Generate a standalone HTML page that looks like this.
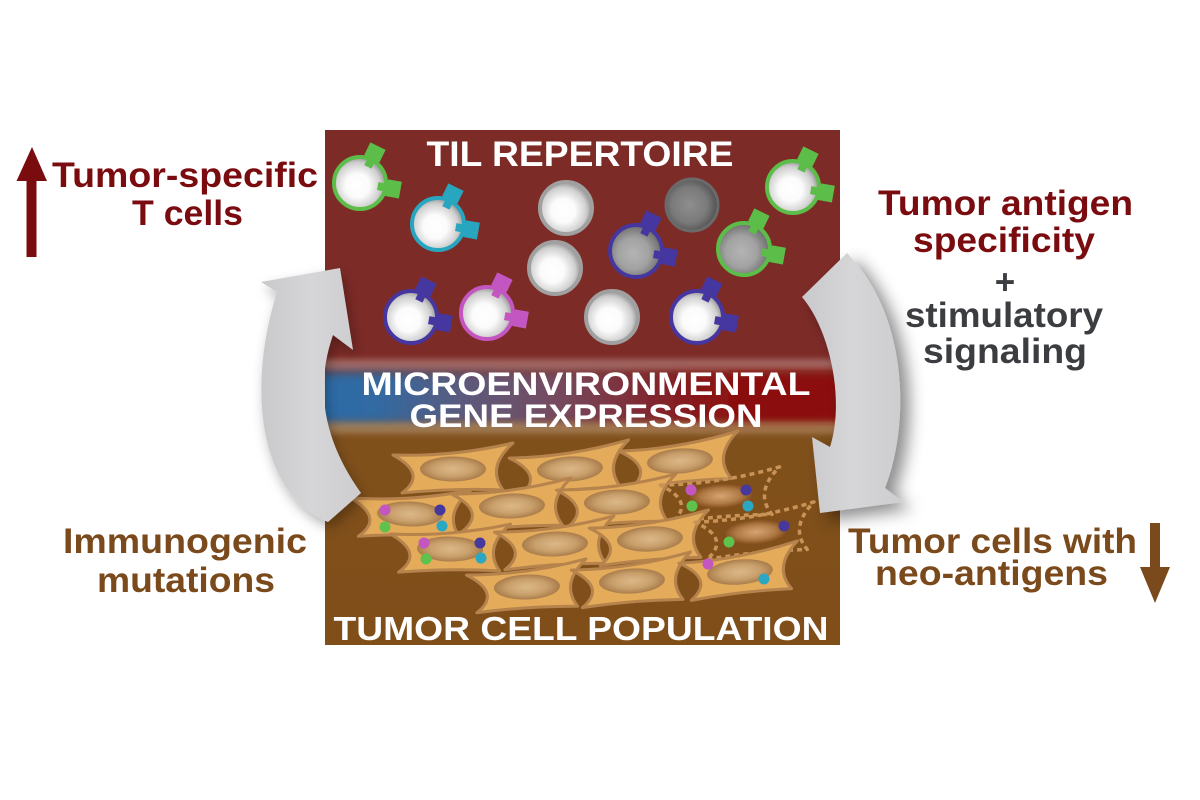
<!DOCTYPE html>
<html><head><meta charset="utf-8"><style>
html,body{margin:0;padding:0;background:#fff;}
svg{display:block;}
text{font-family:"Liberation Sans",Arial,sans-serif;font-weight:bold;}
</style></head><body>
<svg width="1200" height="800" viewBox="0 0 1200 800" xmlns="http://www.w3.org/2000/svg">
<defs>
  <linearGradient id="boxg" x1="0" y1="130" x2="0" y2="645" gradientUnits="userSpaceOnUse">
    <stop offset="0" stop-color="#7d2b27"/>
    <stop offset="0.44" stop-color="#7d2b27"/>
    <stop offset="0.6" stop-color="#80501b"/>
    <stop offset="1" stop-color="#7f4e19"/>
  </linearGradient>
  <linearGradient id="bandg" x1="325" y1="0" x2="840" y2="0" gradientUnits="userSpaceOnUse">
    <stop offset="0" stop-color="#2c6ba6"/>
    <stop offset="0.1" stop-color="#316aa2"/>
    <stop offset="0.27" stop-color="#5c5a7c"/>
    <stop offset="0.45" stop-color="#764b60"/>
    <stop offset="0.6" stop-color="#7e2d38"/>
    <stop offset="0.75" stop-color="#8a1313"/>
    <stop offset="1" stop-color="#8c0808"/>
  </linearGradient>
  <clipPath id="boxclip"><rect x="325" y="130" width="515" height="515"/></clipPath>
  <filter id="blurv" x="-10%" y="-50%" width="120%" height="200%"><feGaussianBlur stdDeviation="1 5"/></filter>
  <filter id="blur3" x="-10%" y="-100%" width="120%" height="300%"><feGaussianBlur stdDeviation="3"/></filter>
  <filter id="shR" x="-50%" y="-50%" width="200%" height="200%"><feDropShadow dx="9" dy="7" stdDeviation="8" flood-color="#000" flood-opacity="0.45"/></filter>
  <filter id="shL" x="-50%" y="-50%" width="200%" height="200%"><feDropShadow dx="3" dy="6" stdDeviation="6" flood-color="#000" flood-opacity="0.3"/></filter>
  <radialGradient id="gw" cx="0.45" cy="0.55" r="0.55">
    <stop offset="0" stop-color="#ffffff"/>
    <stop offset="0.42" stop-color="#fbfbfb"/>
    <stop offset="0.8" stop-color="#cfcfcf"/>
    <stop offset="1" stop-color="#969696"/>
  </radialGradient>
  <radialGradient id="gg" cx="0.45" cy="0.55" r="0.55">
    <stop offset="0" stop-color="#b4b4b4"/>
    <stop offset="0.55" stop-color="#a2a2a2"/>
    <stop offset="1" stop-color="#6c6c6c"/>
  </radialGradient>
  <radialGradient id="gd" cx="0.45" cy="0.5" r="0.55">
    <stop offset="0" stop-color="#8e8e8e"/>
    <stop offset="0.6" stop-color="#7a7a7a"/>
    <stop offset="1" stop-color="#4c4c4c"/>
  </radialGradient>
  <radialGradient id="nuc" cx="0.5" cy="0.5" r="0.5">
    <stop offset="0" stop-color="#dcb888"/>
    <stop offset="0.6" stop-color="#c9a06c"/>
    <stop offset="1" stop-color="#a97d4b"/>
  </radialGradient>
  <radialGradient id="nucd" cx="0.5" cy="0.5" r="0.5">
    <stop offset="0" stop-color="#d6a574"/>
    <stop offset="0.6" stop-color="#b07a45"/>
    <stop offset="1" stop-color="#7e4a19"/>
  </radialGradient>
  <linearGradient id="arrg" x1="0" y1="0" x2="1" y2="0">
    <stop offset="0" stop-color="#c9c9cb"/>
    <stop offset="0.5" stop-color="#d6d6d8"/>
    <stop offset="1" stop-color="#cdcdcf"/>
  </linearGradient>
  <g id="tc">
    <path d="M-60,-15 Q0,-13 60,-27 Q33,-3 50,20 Q0,18 -51,23 Q-25,4 -60,-15 Z" fill="#e3ab5a" stroke="#b6834d" stroke-width="3" stroke-linejoin="round"/>
    <ellipse cx="0" cy="-1" rx="33" ry="12.5" fill="url(#nuc)"/>
  </g>
  <g id="tcd">
    <path d="M-60,-15 Q0,-13 60,-27 Q33,-3 50,20 Q0,18 -51,23 Q-25,4 -60,-15 Z" fill="none" stroke="#c99358" stroke-width="3.5" stroke-dasharray="5 4" stroke-linejoin="round"/>
    <ellipse cx="0" cy="-1" rx="33" ry="12.5" fill="url(#nucd)"/>
  </g>
  <g id="rc">
    <rect x="-4" y="-30" width="8" height="12"/>
    <rect x="-8.5" y="-41" width="17" height="14"/>
  </g>
</defs>

<rect x="0" y="0" width="1200" height="800" fill="#ffffff"/>

<!-- main box -->
<rect x="325" y="130" width="515" height="515" fill="url(#boxg)"/>
<g clip-path="url(#boxclip)">
  <rect x="300" y="359" width="570" height="12" fill="#b07d78" opacity="0.7" filter="url(#blur3)"/>
  <rect x="300" y="372" width="570" height="52" fill="url(#bandg)" filter="url(#blurv)"/>
  <rect x="300" y="422" width="570" height="12" fill="#b99a70" opacity="0.55" filter="url(#blur3)"/>
</g>

<!-- TIL cells -->
<g transform="translate(360,183)">
  <circle r="26" fill="url(#gw)"/><circle r="26" fill="none" stroke="#5cbd48" stroke-width="4"/>
  <g fill="#5cbd48"><use href="#rc" transform="rotate(26)"/><use href="#rc" transform="rotate(100)"/></g>
</g>
<g transform="translate(438,224)">
  <circle r="26" fill="url(#gw)"/><circle r="26" fill="none" stroke="#29a6bf" stroke-width="4"/>
  <g fill="#29a6bf"><use href="#rc" transform="rotate(26)"/><use href="#rc" transform="rotate(100)"/></g>
</g>
<g transform="translate(566,208)">
  <circle r="26" fill="url(#gw)"/><circle r="26" fill="none" stroke="#a0a0a0" stroke-width="4"/>
</g>
<g transform="translate(692,205)">
  <circle r="27" fill="url(#gd)"/><circle r="26" fill="none" stroke="#6a6a6a" stroke-width="3"/>
</g>
<g transform="translate(793,187)">
  <circle r="26" fill="url(#gw)"/><circle r="26" fill="none" stroke="#5cbd48" stroke-width="4"/>
  <g fill="#5cbd48"><use href="#rc" transform="rotate(26)"/><use href="#rc" transform="rotate(100)"/></g>
</g>
<g transform="translate(555,268)">
  <circle r="26" fill="url(#gw)"/><circle r="26" fill="none" stroke="#a0a0a0" stroke-width="4"/>
</g>
<g transform="translate(636,251)">
  <circle r="26" fill="url(#gg)"/><circle r="26" fill="none" stroke="#4536a0" stroke-width="4"/>
  <g fill="#4536a0"><use href="#rc" transform="rotate(26)"/><use href="#rc" transform="rotate(100)"/></g>
</g>
<g transform="translate(744,249)">
  <circle r="26" fill="url(#gg)"/><circle r="26" fill="none" stroke="#5cbd48" stroke-width="4"/>
  <g fill="#5cbd48"><use href="#rc" transform="rotate(26)"/><use href="#rc" transform="rotate(100)"/></g>
</g>
<g transform="translate(411,317)">
  <circle r="26" fill="url(#gw)"/><circle r="26" fill="none" stroke="#4536a0" stroke-width="4"/>
  <g fill="#4536a0"><use href="#rc" transform="rotate(26)"/><use href="#rc" transform="rotate(100)"/></g>
</g>
<g transform="translate(487,313)">
  <circle r="26" fill="url(#gw)"/><circle r="26" fill="none" stroke="#c456c2" stroke-width="4"/>
  <g fill="#c456c2"><use href="#rc" transform="rotate(26)"/><use href="#rc" transform="rotate(100)"/></g>
</g>
<g transform="translate(612,317)">
  <circle r="26" fill="url(#gw)"/><circle r="26" fill="none" stroke="#a0a0a0" stroke-width="4"/>
</g>
<g transform="translate(697,317)">
  <circle r="26" fill="url(#gw)"/><circle r="26" fill="none" stroke="#4536a0" stroke-width="4"/>
  <g fill="#4536a0"><use href="#rc" transform="rotate(26)"/><use href="#rc" transform="rotate(100)"/></g>
</g>

<!-- band text -->
<text x="586" y="395" font-size="32" fill="#ffffff" text-anchor="middle" textLength="449" lengthAdjust="spacingAndGlyphs">MICROENVIRONMENTAL</text>
<text x="586" y="427" font-size="32" fill="#ffffff" text-anchor="middle" textLength="353" lengthAdjust="spacingAndGlyphs">GENE EXPRESSION</text>

<!-- tumor cells -->
<g clip-path="url(#boxclip)">
  <use href="#tc" transform="translate(453,470)"/>
  <use href="#tc" transform="translate(570,470) rotate(-3)"/>
  <use href="#tc" transform="translate(680,462) rotate(-4)"/>
  <use href="#tc" transform="translate(410,515) rotate(2)"/>
  <use href="#tc" transform="translate(512,507) rotate(-2)"/>
  <use href="#tc" transform="translate(617,503) rotate(-2)"/>
  <use href="#tcd" transform="translate(721,497) rotate(-3)"/>
  <use href="#tc" transform="translate(450,550) rotate(1)"/>
  <use href="#tc" transform="translate(555,545) rotate(-2)"/>
  <use href="#tc" transform="translate(650,540) rotate(-3)"/>
  <use href="#tcd" transform="translate(756,533) rotate(-4)"/>
  <use href="#tc" transform="translate(527,588) rotate(-2)"/>
  <use href="#tc" transform="translate(632,582) rotate(-3)"/>
  <use href="#tc" transform="translate(740,573) rotate(-5)"/>
  <g>
    <circle cx="385" cy="510" r="5.5" fill="#c456c2"/><circle cx="385" cy="527" r="5.5" fill="#5fc24c"/>
    <circle cx="440" cy="510" r="5.5" fill="#47389e"/><circle cx="442" cy="526" r="5.5" fill="#2aa7c2"/>
    <circle cx="424" cy="543" r="5.5" fill="#c456c2"/><circle cx="426" cy="559" r="5.5" fill="#5fc24c"/>
    <circle cx="480" cy="543" r="5.5" fill="#47389e"/><circle cx="481" cy="558" r="5.5" fill="#2aa7c2"/>
    <circle cx="691" cy="490" r="5.5" fill="#c456c2"/><circle cx="692" cy="506" r="5.5" fill="#5fc24c"/>
    <circle cx="746" cy="490" r="5.5" fill="#47389e"/><circle cx="748" cy="506" r="5.5" fill="#2aa7c2"/>
    <circle cx="784" cy="526" r="5.5" fill="#47389e"/><circle cx="729" cy="542" r="5.5" fill="#5fc24c"/>
    <circle cx="708" cy="564" r="5.5" fill="#c456c2"/><circle cx="764" cy="579" r="5.5" fill="#2aa7c2"/>
  </g>
</g>

<!-- box titles -->
<text x="580" y="166" font-size="35" fill="#ffffff" text-anchor="middle" textLength="307" lengthAdjust="spacingAndGlyphs">TIL REPERTOIRE</text>
<text x="581" y="640" font-size="33" fill="#ffffff" text-anchor="middle" textLength="495" lengthAdjust="spacingAndGlyphs">TUMOR CELL POPULATION</text>

<!-- grey cycle arrows -->
<path d="M340,268 L353,350 L333,335 Q305,415 361,493 L328,522 C262,495 245,395 277,292 L261,282 Z" fill="url(#arrg)" filter="url(#shL)"/>
<path d="M847,253 L802,297 C830,330 845,400 830,447 L812,437 L820,513 L903,502 L885,488 C908,430 912,320 847,253 Z" fill="url(#arrg)" filter="url(#shR)"/>

<!-- left labels -->
<polygon points="32,147 16.5,181 26.5,181 26.5,257 36.5,257 36.5,181 47,181" fill="#7a0c10"/>
<text x="52" y="187" font-size="35" fill="#7a0c10" textLength="266" lengthAdjust="spacingAndGlyphs">Tumor-specific</text>
<text x="132" y="225" font-size="35" fill="#7a0c10" textLength="111" lengthAdjust="spacingAndGlyphs">T cells</text>
<text x="63" y="553" font-size="35" fill="#7b4a1c" textLength="244" lengthAdjust="spacingAndGlyphs">Immunogenic</text>
<text x="97" y="592" font-size="35" fill="#7b4a1c" textLength="178" lengthAdjust="spacingAndGlyphs">mutations</text>

<!-- right labels -->
<text x="878" y="215" font-size="35" fill="#7a0c10" textLength="255" lengthAdjust="spacingAndGlyphs">Tumor antigen</text>
<text x="913" y="252" font-size="35" fill="#7a0c10" textLength="182" lengthAdjust="spacingAndGlyphs">specificity</text>
<text x="1005" y="294" font-size="35" fill="#3b3d40" text-anchor="middle">+</text>
<text x="905" y="327" font-size="35" fill="#3b3d40" textLength="198" lengthAdjust="spacingAndGlyphs">stimulatory</text>
<text x="923" y="363" font-size="35" fill="#3b3d40" textLength="164" lengthAdjust="spacingAndGlyphs">signaling</text>
<text x="848" y="553" font-size="35" fill="#7b4a1c" textLength="289" lengthAdjust="spacingAndGlyphs">Tumor cells with</text>
<text x="875" y="585" font-size="35" fill="#7b4a1c" textLength="233" lengthAdjust="spacingAndGlyphs">neo-antigens</text>
<polygon points="1150,523 1160,523 1160,567 1170,567 1155,603 1140,567 1150,567" fill="#7b4a1c"/>
</svg>
</body></html>
